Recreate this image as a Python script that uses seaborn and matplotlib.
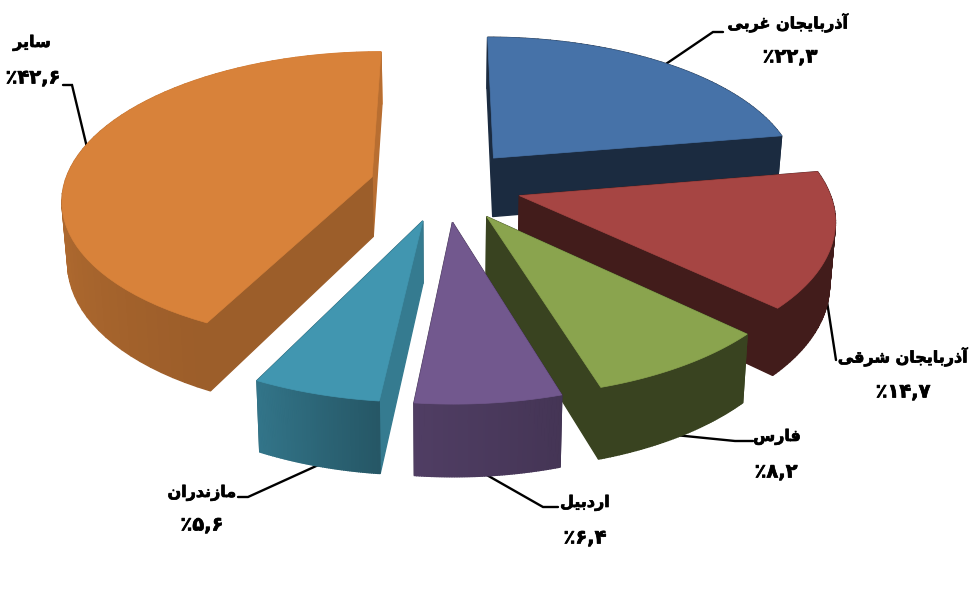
import numpy as np
import matplotlib
matplotlib.use("Agg")
import matplotlib.pyplot as plt
import matplotlib.patheffects as pe
import seaborn as sns

sns.set_style("white")

# slices, clockwise from 12 o'clock
names = ["آذربایجان غربی", "آذربایجان شرقی", "فارس", "اردبیل", "مازندران", "سایر"]
shares = [22.3, 14.7, 8.2, 6.4, 5.6, 42.6]
explode = [0.25, 0.25, 0.25, 0.25, 0.25, 0.245]

top_colors = ["#4672A8", "#A64543", "#8AA44E", "#72588E", "#4196B0", "#D8823A"]
# brightness of the outer wall at the two ends of each slice, and of the two cut faces
wall_shade = [(0.38, 0.38), (0.40, 0.40), (0.41, 0.41), (0.60, 0.70), (0.58, 0.78), (0.72, 1.00)]
face_shade = [(0.38, 0.38), (0.40, 0.40), (0.41, 0.41), (0.50, 0.50), (0.82, 0.60), (0.72, 0.85)]

# label text position, value text position and leader line for each slice
label_xy = [(788, 23), (903, 357), (777, 437), (585, 503), (202, 493), (32, 43)]
value_xy = [(790, 57), (903, 392), (776, 472), (585, 538), (202, 525), (33, 78)]
leaders = [
    [(660, 68), (713, 32), (723, 32)],
    [(826, 295), (836, 360)],
    [(675, 435), (735, 441), (753, 441)],
    [(485, 474), (543, 507), (558, 507)],
    [(325, 462), (248, 497), (238, 497)],
    [(90, 160), (72, 85), (63, 85)],
]

CX, CY = 445, 185
RADIUS = 308
SQUASH = 0.47
DEPTH = 60
PERSP = 0.14
TAPER = 0.015


def project(x, y, z=0.0):
    f = 1 / (1 + PERSP * y)
    return CX + RADIUS * x * f * (1 - TAPER * z), CY - RADIUS * SQUASH * y * f + DEPTH * z * f


def shape_persian(text):
    # matplotlib has no arabic shaping, so pick the joined forms and lay them out left to right
    forms = {
        "آ": "\uFE81\uFE82", "ا": "\uFE8D\uFE8E", "د": "\uFEA9\uFEAA", "ذ": "\uFEAB\uFEAC",
        "ر": "\uFEAD\uFEAE", "ز": "\uFEAF\uFEB0",
        "ب": "\uFE8F\uFE90\uFE91\uFE92", "ج": "\uFE9D\uFE9E\uFE9F\uFEA0",
        "س": "\uFEB1\uFEB2\uFEB3\uFEB4", "ش": "\uFEB5\uFEB6\uFEB7\uFEB8",
        "غ": "\uFECD\uFECE\uFECF\uFED0", "ف": "\uFED1\uFED2\uFED3\uFED4",
        "ق": "\uFED5\uFED6\uFED7\uFED8", "ل": "\uFEDD\uFEDE\uFEDF\uFEE0",
        "م": "\uFEE1\uFEE2\uFEE3\uFEE4", "ن": "\uFEE5\uFEE6\uFEE7\uFEE8",
        "ی": "\uFBFC\uFBFD\uFBFE\uFBFF",
    }
    out = []
    for i, c in enumerate(text):
        if c not in forms:
            out.append(c)
            continue
        prev = text[i - 1] if i > 0 else " "
        nxt = text[i + 1] if i + 1 < len(text) else " "
        joins_prev = prev in forms and len(forms[prev]) == 4
        joins_next = nxt in forms and len(forms[c]) == 4
        idx = {(False, False): 0, (True, False): 1, (False, True): 2, (True, True): 3}[(joins_prev, joins_next)]
        out.append(forms[c][idx])
    return "".join(out[::-1])


def persian_value(v):
    digits = "{:.1f}".format(v).replace(".", ",")
    return "٪" + digits.translate(str.maketrans("0123456789", "۰۱۲۳۴۵۶۷۸۹"))


def darker(color, k):
    return tuple(min(1, c * k) for c in matplotlib.colors.to_rgb(color))


def draw_slice(ax, start, stop, off, color, wall, face):
    a0, a1 = np.radians(start), np.radians(stop)
    mid = (a0 + a1) / 2
    ox, oy = off * np.sin(mid), off * np.cos(mid)
    ang = np.linspace(a0, a1, 60)
    xs, ys = ox + np.sin(ang), oy + np.cos(ang)

    # quads of the side, far ones first
    quads = []
    for n in range(len(ang) - 1):
        t = n / (len(ang) - 2)
        col = darker(color, wall[0] + (wall[1] - wall[0]) * t)
        px = [xs[n], xs[n + 1], xs[n + 1], xs[n]]
        py = [ys[n], ys[n + 1], ys[n + 1], ys[n]]
        quads.append((px, py, [0, 0, 1, 1], col))
    for i, (ex, ey) in zip([0, 1], [(xs[0], ys[0]), (xs[-1], ys[-1])]):
        col = darker(color, face[i])
        quads.append(([ox, ex, ex, ox], [oy, ey, ey, oy], [0, 0, 1, 1], col))
    quads.sort(key=lambda q: -np.mean(q[1]))
    for px, py, pz, col in quads:
        sx, sy = project(np.array(px), np.array(py), np.array(pz))
        ax.fill(sx, sy, color=col, lw=1.0)

    sx, sy = project(np.r_[ox, xs], np.r_[oy, ys])
    ax.fill(sx, sy, color=color, lw=0.5)


fig, ax = plt.subplots(figsize=(9.75, 6.03), dpi=100)
ax.set_position([0, 0, 1, 1])
ax.set_xlim(0, 975)
ax.set_ylim(603, 0)
ax.axis("off")

palette = sns.color_palette(top_colors)
edges = np.r_[0, np.cumsum(shares)] / np.sum(shares) * 360

# back slices first
order = [0, 5, 1, 2, 4, 3]
for i in order:
    draw_slice(ax, edges[i], edges[i + 1], explode[i], palette[i], wall_shade[i], face_shade[i])

# the original font is much heavier than DejaVu bold
heavy = [pe.withStroke(linewidth=0.5, foreground="black")]
for i in range(len(names)):
    lx, ly = zip(*leaders[i])
    # under the slices, so the line seems to start at the edge
    ax.plot(lx, ly, color="black", lw=1.7, solid_joinstyle="miter", zorder=0.5)
    ax.text(*label_xy[i], shape_persian(names[i]), ha="center", va="center",
            fontsize=11.5, fontweight="bold", family="DejaVu Sans", color="black", path_effects=heavy)
    ax.text(*value_xy[i], persian_value(shares[i]), ha="center", va="center",
            fontsize=14, fontweight="bold", family="DejaVu Sans", color="black", path_effects=heavy)

fig.savefig("out.png", dpi=100, facecolor="white")
